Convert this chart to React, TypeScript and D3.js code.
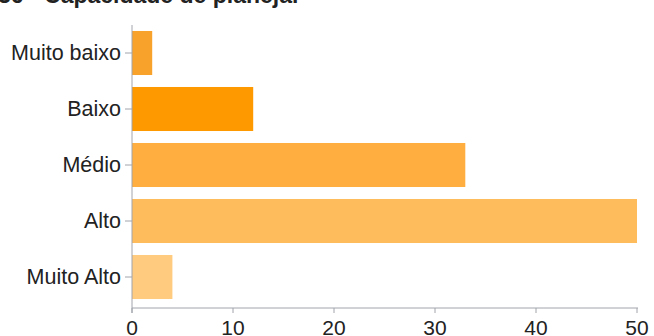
import React from "react";
import * as d3 from "d3";

const categories = ["Muito baixo", "Baixo", "Médio", "Alto", "Muito Alto"];
const values = [2, 12, 33, 50, 4];
const colors = ["#f9a22b", "#ff9900", "#ffae3f", "#ffbc5d", "#ffcb7f"];
const xTicks = [0, 10, 20, 30, 40, 50];
const title = "36 - Capacidade de planejar";

const W = 654;
const H = 336;

export default function App() {
  const x = d3.scaleLinear().domain([0, 50]).range([132, 637]);
  const y = d3
    .scaleBand<string>()
    .domain(categories)
    .range([25, 305])
    .paddingInner(0.214)
    .paddingOuter(0.107);
  const axisY = 308;
  const font = "'Liberation Sans', Arial, Helvetica, sans-serif";
  return (
    <svg
      width={W}
      height={H}
      style={{ position: "absolute", left: 0, top: 0, background: "#fff" }}
      fontFamily={font}
    >
      <text x={-2} y={3} fontSize={23} fontWeight="bold" fill="#222">
        {title}
      </text>
      {categories.map((c, i) => (
        <rect
          key={c}
          x={x(0)}
          y={y(c)!}
          width={x(values[i]) - x(0)}
          height={y.bandwidth()}
          fill={colors[i]}
        />
      ))}
      <line x1={x(0)} x2={x(0)} y1={25} y2={axisY + 5} stroke="#a0a4ab" strokeWidth={1} />
      <line x1={x(0)} x2={x(50) + 1} y1={axisY} y2={axisY} stroke="#a0a4ab" strokeWidth={1} />
      {categories.map((c) => {
        const cy = y(c)! + y.bandwidth() / 2;
        return (
          <g key={c}>
            <line x1={x(0) - 7} x2={x(0)} y1={cy} y2={cy} stroke="#a0a4ab" />
            <text
              x={x(0) - 11}
              y={cy}
              textAnchor="end"
              dominantBaseline="central"
              fontSize={21.5}
              fill="#222"
            >
              {c}
            </text>
          </g>
        );
      })}
      {xTicks.map((t) => (
        <g key={t}>
          <line x1={x(t)} x2={x(t)} y1={axisY} y2={axisY + 5} stroke="#a0a4ab" />
          <text
            x={x(t)}
            y={axisY + 27}
            textAnchor="middle"
            fontSize={21}
            fill="#222"
          >
            {t}
          </text>
        </g>
      ))}
    </svg>
  );
}
